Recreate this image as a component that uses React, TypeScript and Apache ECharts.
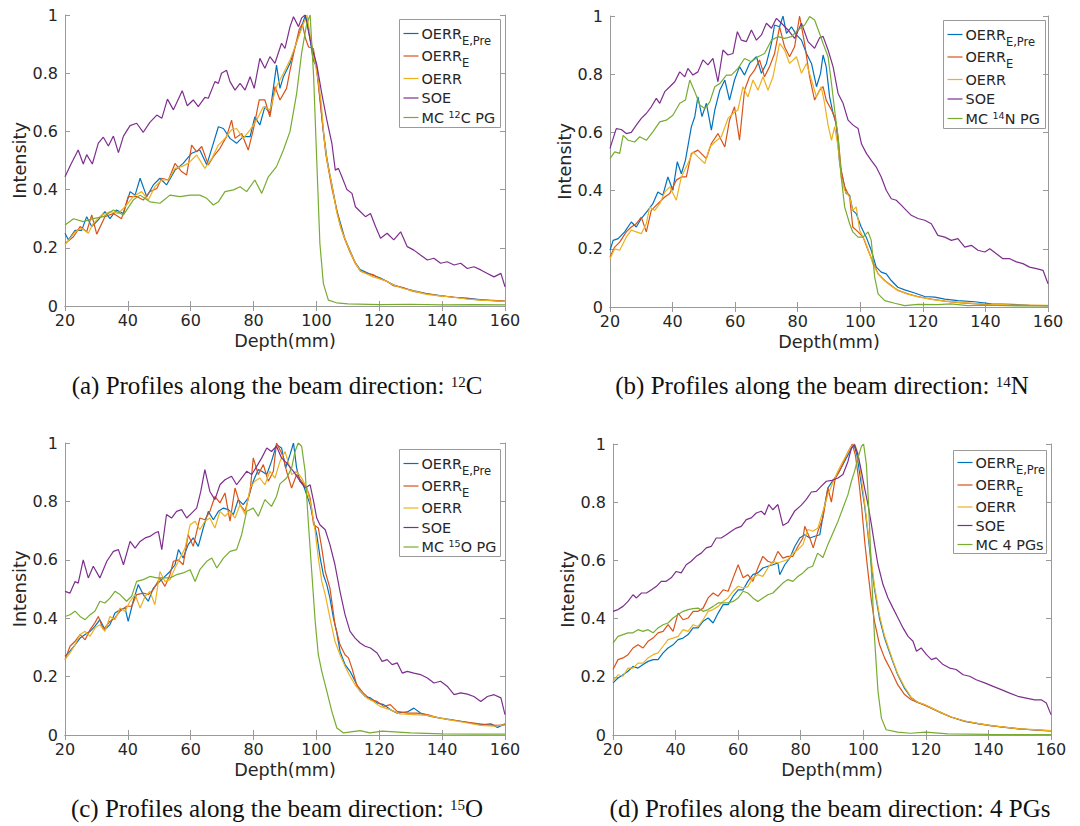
import React, { useEffect, useRef } from 'react';
import * as echarts from 'echarts';

// ---------------- data (depth mm, normalised intensity) ----------------
const aOerrEPre = [[20,0.25],[21.1,0.227],[23.2,0.26],[25.3,0.26],[26.9,0.307],[28.5,0.273],[30.6,0.296],[32.7,0.324],[34.3,0.3],[36.4,0.33],[38.6,0.318],[40.7,0.393],[42.3,0.381],[43.9,0.439],[46,0.376],[48.1,0.416],[50.2,0.439],[52.3,0.416],[55,0.467],[57.6,0.49],[60.3,0.525],[62.9,0.536],[65.1,0.485],[67.2,0.559],[68.8,0.616],[70.4,0.61],[72.5,0.576],[74.6,0.559],[76.7,0.582],[78.9,0.582],[80.4,0.65],[82,0.622],[83.6,0.685],[85.2,0.662],[87.3,0.828],[88.4,0.748],[89.5,0.788],[91.6,0.834],[93.5,0.9],[95,0.95],[96.5,1.0],[97.5,0.95],[99,0.845],[100.1,0.82],[101.1,0.72],[102.2,0.6],[103.3,0.51],[104.3,0.45],[105.4,0.39],[106.4,0.33],[107.5,0.29],[109.1,0.23],[110.7,0.19],[112.3,0.15],[113.9,0.125],[116,0.115],[118.1,0.105],[120.2,0.097],[122.3,0.085],[124.5,0.073],[127.6,0.062],[130.8,0.053],[135,0.043],[139.3,0.036],[143.5,0.03],[147.7,0.027],[152,0.022],[156.2,0.018],[160,0.016]];
const aOerrE = [[20,0.215],[22.7,0.238],[24.8,0.273],[26.9,0.255],[28.5,0.313],[30.1,0.247],[32.7,0.307],[35.4,0.318],[38,0.3],[40.1,0.376],[42.8,0.376],[44.9,0.364],[47,0.393],[49.2,0.404],[50.8,0.439],[52.9,0.433],[55,0.49],[57.1,0.462],[58.7,0.45],[60.3,0.553],[61.9,0.53],[63.5,0.548],[65.6,0.485],[67.2,0.513],[69.3,0.542],[71.4,0.582],[73,0.639],[74.1,0.576],[76.2,0.593],[78.3,0.536],[79.9,0.605],[81.8,0.708],[83.6,0.708],[85.2,0.65],[86.8,0.754],[88.4,0.708],[90.5,0.748],[91.6,0.81],[93,0.88],[94.5,0.95],[95.5,0.97],[96.5,0.92],[97.5,0.89],[99,0.885],[100,0.82],[101,0.72],[102,0.62],[103,0.52],[104,0.46],[105,0.4],[106.4,0.335],[107.5,0.28],[109,0.23],[110.7,0.185],[112.3,0.148],[114,0.12],[116,0.112],[118,0.108],[120,0.095],[122.3,0.086],[124.5,0.07],[127.6,0.063],[130.8,0.05],[135,0.042],[139.3,0.035],[143.5,0.031],[147.7,0.025],[152,0.021],[156.2,0.019],[160,0.017]];
const aOerr = [[20,0.21],[23.2,0.255],[25.3,0.267],[27.4,0.25],[29,0.284],[31.7,0.313],[34.3,0.324],[37,0.318],[39.1,0.341],[41.7,0.376],[44.4,0.393],[46.5,0.364],[48.6,0.41],[50.8,0.433],[52.9,0.433],[55,0.473],[57.1,0.479],[59.2,0.49],[61.9,0.519],[64.5,0.473],[66.7,0.507],[68.8,0.553],[70.9,0.576],[73,0.605],[74.6,0.61],[76.7,0.576],[78.9,0.605],[81,0.639],[83.1,0.685],[85.2,0.674],[87.3,0.754],[89.5,0.8],[91.6,0.845],[93.5,0.9],[95.5,0.96],[97,1.0],[98,0.93],[99.5,0.84],[100.5,0.78],[101.5,0.7],[102.5,0.57],[103.5,0.49],[104.5,0.44],[105.5,0.38],[106.5,0.32],[108,0.26],[109.5,0.22],[111,0.18],[112.5,0.145],[114,0.12],[116,0.11],[118,0.1],[120.2,0.093],[122.3,0.085],[124.5,0.072],[127.6,0.06],[130.8,0.052],[135,0.04],[139.3,0.035],[143.5,0.03],[147.7,0.024],[152,0.02],[156.2,0.018],[160,0.016]];
const aSoe = [[20,0.444],[22,0.49],[24.2,0.536],[25.8,0.488],[26.9,0.52],[28.7,0.488],[30.6,0.56],[32.2,0.58],[33.8,0.55],[35.4,0.584],[37,0.527],[38.6,0.584],[40.7,0.62],[42.8,0.628],[44.9,0.597],[47,0.631],[49.2,0.656],[50.8,0.645],[52.6,0.711],[54.5,0.674],[57.3,0.74],[58.9,0.688],[60.8,0.708],[62.4,0.685],[64.5,0.717],[65.6,0.714],[67.7,0.771],[68.8,0.765],[69.8,0.8],[71.4,0.81],[72.5,0.771],[74.1,0.742],[75.7,0.765],[77.3,0.742],[78.9,0.788],[80.2,0.748],[82,0.851],[83.6,0.817],[85.2,0.857],[86.8,0.834],[88.9,0.903],[90,0.885],[91.6,0.96],[92.7,0.994],[94.3,0.96],[95.3,0.99],[96.4,1.0],[98.5,0.89],[100.1,0.83],[101.7,0.73],[103.3,0.64],[104.9,0.56],[106,0.467],[107,0.473],[108.1,0.444],[109.7,0.4],[111.3,0.387],[112.4,0.341],[114,0.324],[115.6,0.307],[117.2,0.318],[118.8,0.273],[120.4,0.233],[122.5,0.25],[124.6,0.227],[126.8,0.255],[128.9,0.204],[131,0.192],[133.1,0.175],[135.3,0.158],[137.4,0.164],[139.5,0.147],[141.6,0.152],[143.8,0.141],[145.9,0.147],[148,0.129],[150.1,0.135],[152.3,0.124],[154.4,0.112],[156.5,0.1],[158.7,0.112],[160,0.066]];
const aMc = [[20,0.278],[22.7,0.3],[25.8,0.29],[29,0.3],[32.2,0.307],[35.4,0.33],[38.6,0.313],[41.7,0.364],[43.9,0.381],[47,0.358],[50.2,0.353],[53.4,0.381],[56.6,0.376],[59.8,0.381],[62.9,0.381],[65.1,0.37],[67.2,0.347],[68.8,0.358],[70.9,0.393],[73.6,0.399],[75.7,0.41],[77.8,0.393],[80.4,0.433],[82.6,0.387],[84.7,0.444],[87.3,0.479],[89.5,0.536],[91.6,0.6],[93.7,0.73],[95.3,0.87],[96.9,0.97],[98,1.0],[99.1,0.79],[100.1,0.5],[101.1,0.215],[102.2,0.078],[103.8,0.02],[106.4,0.011],[110,0.007],[120,0.005],[130,0.006],[140,0.004],[150,0.005],[160,0.004]];

const bOerrEPre = [[20,0.195],[21,0.229],[22.6,0.235],[24.7,0.258],[26.8,0.292],[28.4,0.275],[30,0.304],[32.1,0.332],[33.7,0.355],[35.3,0.395],[36.9,0.384],[38.5,0.447],[40.1,0.401],[41.5,0.499],[42.8,0.458],[44.1,0.504],[46,0.619],[47.1,0.654],[48.1,0.722],[49.4,0.654],[50.8,0.7],[52.4,0.608],[53.5,0.677],[55.1,0.745],[56.7,0.78],[58.2,0.711],[59.8,0.78],[61.4,0.826],[63,0.797],[64.6,0.837],[66.8,0.86],[68.4,0.803],[70,0.837],[71.6,0.906],[72.6,0.969],[74.2,0.963],[75.3,1.0],[76.4,0.94],[78,0.963],[79.6,0.935],[81.2,0.917],[82.8,0.871],[84.4,0.837],[86,0.757],[87.3,0.803],[88.1,0.866],[89.1,0.826],[90.2,0.722],[91.3,0.665],[92.3,0.63],[93.4,0.493],[94.5,0.436],[95.5,0.39],[96.6,0.384],[97.6,0.332],[98.7,0.321],[100.3,0.275],[101.9,0.24],[103.5,0.195],[105.1,0.137],[106.7,0.12],[108.3,0.114],[109.9,0.091],[112,0.068],[114.2,0.059],[117.4,0.048],[120.6,0.036],[123.8,0.034],[127,0.027],[131.2,0.022],[136.6,0.018],[141.9,0.011],[148.3,0.009],[154,0.006],[160,0.005]];
const bOerrE = [[20,0.172],[21.5,0.206],[23.1,0.223],[25.2,0.258],[26.8,0.275],[28.4,0.286],[30,0.309],[31.6,0.258],[33.2,0.332],[35.3,0.355],[37.5,0.378],[39.1,0.39],[41.2,0.436],[42.8,0.447],[44.4,0.447],[46,0.527],[48.1,0.539],[50.8,0.51],[52.4,0.562],[54.5,0.596],[56.7,0.55],[58.2,0.642],[59.8,0.688],[61.4,0.573],[63,0.745],[64.6,0.791],[66.2,0.814],[67.8,0.849],[69.4,0.791],[71,0.826],[72.6,0.871],[74.2,0.963],[75.8,0.894],[77.4,0.86],[79,0.894],[80.6,1.0],[82.2,0.906],[83.8,0.791],[85.4,0.711],[87,0.745],[88.1,0.757],[89.1,0.711],[90.8,0.677],[91.8,0.654],[92.9,0.585],[93.9,0.47],[95,0.413],[96.6,0.378],[97.6,0.275],[99.3,0.258],[100.9,0.24],[102.5,0.195],[104,0.155],[105.7,0.114],[107.8,0.091],[109.9,0.074],[112,0.057],[115.2,0.045],[118.4,0.036],[122.7,0.027],[127,0.02],[132.3,0.014],[139.8,0.009],[148,0.006],[160,0.005]];
const bOerr = [[20,0.166],[21.5,0.2],[23.1,0.195],[25.2,0.24],[26.8,0.264],[28.4,0.258],[30,0.252],[31.6,0.286],[32.7,0.344],[34.3,0.332],[35.9,0.355],[37.5,0.395],[39.1,0.413],[41.2,0.367],[42.8,0.447],[44.9,0.493],[46.5,0.533],[48.1,0.516],[50.3,0.493],[51.9,0.55],[53.5,0.567],[55.6,0.585],[57.7,0.648],[59.3,0.665],[60.9,0.677],[62.5,0.757],[64.1,0.722],[65.7,0.78],[67.3,0.745],[68.9,0.791],[70.5,0.745],[72.1,0.791],[74.2,0.906],[75.8,0.883],[77.4,0.837],[79.6,0.86],[81.2,0.803],[82.8,0.837],[84.4,0.78],[86,0.722],[87.5,0.757],[88.6,0.7],[89.7,0.625],[90.8,0.573],[91.8,0.62],[92.9,0.55],[93.9,0.447],[95,0.401],[96.6,0.378],[97.6,0.332],[98.7,0.344],[99.8,0.264],[101.4,0.229],[103,0.183],[104,0.149],[105.7,0.114],[107.8,0.09],[109.9,0.072],[112,0.058],[115.2,0.044],[118.4,0.035],[122.7,0.026],[127,0.02],[132.3,0.015],[139.8,0.01],[148,0.007],[160,0.006]];
const bSoe = [[20,0.545],[22,0.613],[23.6,0.61],[25.2,0.596],[26.8,0.6],[28.4,0.625],[30,0.648],[31.6,0.665],[33.2,0.688],[34.8,0.717],[35.9,0.7],[37.5,0.74],[39.1,0.757],[40.7,0.774],[42.3,0.808],[43.9,0.791],[44.9,0.82],[46.5,0.797],[48.1,0.808],[49.7,0.849],[51.3,0.832],[52.9,0.854],[54.5,0.774],[56.1,0.883],[57.7,0.866],[59.3,0.871],[60.7,0.946],[62,0.917],[63.6,0.912],[65.2,0.952],[66.8,0.917],[68.4,0.935],[70,0.975],[71.6,0.958],[73.2,0.992],[74.8,0.975],[76.9,0.952],[79,0.923],[81.2,0.975],[83.3,0.912],[85.4,0.889],[87,0.925],[88.1,0.93],[89.7,0.883],[91.3,0.826],[92.9,0.734],[94.5,0.7],[96.1,0.642],[97.7,0.625],[99.3,0.613],[100.4,0.56],[102,0.527],[103.5,0.504],[105.1,0.481],[106.7,0.447],[108.3,0.401],[109.9,0.372],[111.5,0.367],[113.1,0.35],[114.7,0.332],[116.3,0.315],[118.4,0.304],[120.6,0.298],[122.7,0.286],[124.8,0.246],[127,0.24],[129.1,0.229],[131.2,0.235],[133.4,0.206],[135.5,0.212],[137.6,0.195],[139.8,0.189],[141.4,0.2],[143.5,0.183],[145.6,0.166],[147.8,0.166],[149.9,0.155],[152,0.149],[154.1,0.137],[156.3,0.132],[158.4,0.126],[160,0.08]];
const bMc = [[20,0.51],[21.5,0.533],[23.1,0.528],[24.2,0.59],[25.8,0.573],[27.9,0.567],[29.5,0.585],[31.6,0.573],[33.7,0.602],[35.9,0.636],[38,0.642],[40.1,0.659],[42.3,0.7],[44.1,0.711],[45.5,0.78],[47.1,0.74],[48.7,0.694],[50.3,0.682],[51.9,0.705],[53.5,0.757],[55.1,0.768],[57.2,0.797],[58.8,0.797],[60.9,0.82],[63,0.854],[65.2,0.843],[67.3,0.86],[69.4,0.871],[71.6,0.917],[73.7,0.929],[75.8,0.923],[78,0.929],[80.1,0.952],[82.2,0.969],[83.8,0.998],[85.4,0.986],[87,0.94],[88.1,0.906],[89.7,0.86],[90.8,0.768],[91.8,0.676],[92.9,0.585],[93.9,0.447],[95,0.344],[96.6,0.286],[97.6,0.258],[99.3,0.24],[100.9,0.24],[102.5,0.258],[103.5,0.229],[104.6,0.103],[105.7,0.045],[107.8,0.022],[111,0.013],[114.2,0.005],[118.4,0.009],[124.8,0.008],[129,0.011],[134.3,0.005],[140,0.006],[150,0.004],[160,0.004]];

const cOerrEPre = [[20,0.269],[21.6,0.287],[23.2,0.309],[24.8,0.332],[26.4,0.344],[28,0.355],[29.5,0.372],[31.1,0.395],[32.7,0.361],[34.3,0.378],[35.9,0.418],[37.5,0.429],[39.1,0.435],[40.1,0.389],[41.7,0.458],[43.3,0.515],[44.9,0.481],[46.5,0.458],[48.1,0.503],[49.7,0.521],[51.3,0.538],[53.4,0.56],[55,0.583],[56.1,0.635],[57.6,0.606],[59.2,0.652],[60.8,0.675],[62.4,0.646],[64,0.709],[65.6,0.766],[67.2,0.737],[68.8,0.766],[70.4,0.777],[72,0.772],[73.6,0.755],[75.1,0.806],[76.7,0.789],[78.3,0.812],[79.9,0.869],[81.5,0.909],[82.6,0.903],[84.2,0.892],[85.7,0.937],[87.3,0.994],[88.9,0.983],[90.2,0.915],[91.6,0.96],[92.7,1.0],[93.7,0.914],[94.8,0.869],[95.8,0.857],[96.9,0.823],[98,0.789],[99.1,0.732],[100.1,0.686],[101.2,0.606],[102.2,0.549],[103.3,0.515],[104.3,0.469],[105.4,0.401],[106.4,0.355],[107.5,0.287],[109.1,0.241],[110.7,0.218],[112.3,0.184],[113.9,0.15],[115.5,0.132],[117.2,0.127],[119.3,0.11],[121.4,0.104],[123.5,0.087],[125.7,0.075],[128.9,0.079],[131,0.092],[133.1,0.075],[136.3,0.064],[139.5,0.058],[142.7,0.053],[145.9,0.047],[149.1,0.041],[152.3,0.035],[155.5,0.038],[157.6,0.026],[160,0.038]];
const cOerrE = [[20,0.258],[21.6,0.304],[23.2,0.321],[24.8,0.344],[26.4,0.326],[28,0.361],[29.5,0.384],[30.6,0.406],[32.2,0.361],[34.3,0.389],[35.9,0.401],[37.5,0.424],[39.6,0.441],[41.2,0.441],[42.8,0.481],[44.9,0.486],[46.5,0.481],[48.1,0.498],[50.2,0.538],[51.8,0.509],[53.4,0.549],[54.5,0.595],[56.1,0.6],[57.6,0.583],[59.2,0.686],[60.8,0.646],[62.9,0.743],[64.5,0.737],[66.1,0.766],[67.7,0.817],[69.3,0.795],[70.9,0.829],[72.5,0.732],[74.1,0.846],[75.7,0.789],[77.3,0.766],[78.9,0.834],[79.9,0.949],[81.5,0.892],[83.1,0.926],[84.7,0.869],[86.3,0.903],[87.3,1.0],[88.9,0.966],[89.5,0.949],[90.5,0.903],[92.1,0.846],[93.7,0.892],[95.3,0.869],[96.9,0.846],[98,0.812],[99.1,0.72],[100.6,0.709],[101.7,0.64],[102.8,0.56],[104.3,0.503],[105.9,0.378],[107.5,0.309],[109.1,0.275],[110.2,0.264],[111.3,0.229],[112.8,0.172],[114.9,0.144],[117.2,0.121],[119.3,0.115],[121.4,0.098],[123.5,0.104],[125.7,0.081],[128.9,0.075],[132,0.075],[135.3,0.07],[138.5,0.06],[141.6,0.053],[145.9,0.047],[150.1,0.041],[154.4,0.035],[157.6,0.033],[160,0.035]];
const cOerr = [[20,0.258],[21.6,0.281],[23.2,0.309],[24.8,0.344],[26.4,0.355],[28,0.338],[29.5,0.366],[31.1,0.378],[32.7,0.355],[34.3,0.406],[35.9,0.395],[37.5,0.435],[39.1,0.424],[40.7,0.458],[42.3,0.481],[43.9,0.435],[45.5,0.475],[47,0.492],[48.6,0.446],[50.2,0.56],[51.8,0.526],[53.4,0.532],[55,0.572],[56.6,0.606],[58.2,0.64],[59.8,0.72],[61.4,0.732],[62.9,0.703],[64.5,0.732],[66.1,0.743],[67.7,0.709],[69.3,0.766],[70.9,0.749],[72.5,0.766],[74.1,0.743],[75.7,0.789],[77.3,0.755],[78.9,0.846],[80.4,0.869],[82,0.88],[83.6,0.857],[85.2,0.903],[86.8,0.88],[88.4,0.937],[90,0.971],[91.6,0.914],[92.1,0.892],[93.7,0.903],[95.3,0.88],[96.9,0.846],[98.5,0.777],[99.6,0.697],[100.6,0.606],[101.7,0.526],[102.8,0.481],[104.3,0.401],[105.9,0.321],[107.5,0.275],[109.1,0.235],[110.7,0.201],[112.3,0.172],[113.9,0.15],[116,0.127],[118.1,0.115],[120.2,0.098],[123.4,0.087],[126.6,0.072],[131,0.07],[135.2,0.067],[139.5,0.058],[143.8,0.049],[148,0.041],[152.3,0.033],[156.5,0.03],[160,0.035]];
const cSoe = [[20,0.492],[21.6,0.486],[23.2,0.526],[24.2,0.52],[25.8,0.6],[27.4,0.538],[29,0.578],[31.1,0.538],[33.3,0.595],[35.4,0.629],[37,0.635],[38.6,0.583],[40.7,0.663],[42.3,0.64],[43.9,0.663],[45.5,0.675],[47,0.68],[48.6,0.692],[49.7,0.697],[50.8,0.635],[52.3,0.755],[53.9,0.743],[55.5,0.766],[57.1,0.772],[58.7,0.743],[60.3,0.76],[61.9,0.777],[63.2,0.834],[64.5,0.909],[66.1,0.834],[67.7,0.806],[69.3,0.857],[70.9,0.874],[73,0.886],[74.6,0.857],[76.2,0.88],[77.8,0.903],[79.4,0.892],[81,0.92],[82.6,0.949],[84.2,0.983],[85.7,0.971],[87.3,0.989],[88.9,0.949],[90.5,0.932],[92.7,0.903],[94.8,0.869],[96.4,0.846],[98,0.857],[99.1,0.8],[100.1,0.743],[101.1,0.72],[102.8,0.703],[104.3,0.652],[105.9,0.583],[107.5,0.492],[109.1,0.412],[110.7,0.355],[112.3,0.332],[113.9,0.315],[115.5,0.304],[117.2,0.298],[119.3,0.281],[120.9,0.252],[122.5,0.258],[124.1,0.241],[125.7,0.247],[127.3,0.212],[128.9,0.218],[131,0.212],[133.1,0.207],[135.3,0.195],[137.4,0.178],[139.5,0.184],[141.6,0.167],[143.8,0.138],[145.9,0.144],[148,0.14],[150.1,0.132],[152.3,0.115],[154.4,0.132],[156.5,0.138],[158.7,0.127],[160,0.07]];
const cMc = [[20,0.406],[21.6,0.412],[23.2,0.424],[24.8,0.406],[26.4,0.395],[28,0.412],[29.5,0.424],[31.1,0.458],[32.7,0.452],[34.3,0.469],[35.9,0.492],[37.5,0.481],[39.6,0.458],[41.2,0.475],[42.8,0.526],[44.9,0.532],[47,0.543],[49.2,0.538],[51.3,0.538],[53.4,0.538],[55.5,0.549],[57.6,0.555],[59.8,0.566],[61.4,0.526],[62.9,0.566],[65.1,0.595],[66.7,0.606],[68.3,0.572],[70.4,0.606],[72.5,0.629],[74.6,0.635],[76.2,0.686],[77.8,0.766],[79.9,0.777],[81.5,0.749],[83.6,0.806],[85.7,0.783],[87.3,0.817],[88.4,0.86],[90.5,0.88],[92.1,0.914],[93.2,0.971],[94.2,1.0],[95.3,0.989],[96.4,0.903],[97.4,0.732],[98.5,0.56],[99.6,0.389],[100.6,0.275],[101.7,0.218],[103.3,0.15],[104.9,0.081],[106.5,0.024],[108.6,0.007],[113.9,0.015],[117,0.007],[121,0.013],[130,0.007],[140,0.004],[150,0.003],[160,0.003]];

const dOerrEPre = [[20,0.179],[21.6,0.196],[23.2,0.207],[24.8,0.219],[26.4,0.236],[28,0.23],[29.6,0.242],[31.2,0.253],[32.8,0.259],[34.4,0.259],[36,0.282],[37.6,0.299],[39.2,0.31],[40.8,0.328],[42.4,0.333],[44,0.345],[45.6,0.368],[47.2,0.368],[48.8,0.391],[50.4,0.402],[52,0.385],[53.6,0.419],[55.2,0.448],[56.8,0.448],[58.4,0.477],[60,0.499],[61.6,0.499],[63.1,0.528],[64.7,0.551],[66.3,0.557],[67.9,0.574],[69.5,0.58],[71.1,0.585],[72.7,0.591],[73.3,0.551],[74.9,0.585],[76.5,0.608],[78.1,0.648],[79.7,0.677],[81.3,0.688],[82.9,0.677],[84.5,0.683],[86.1,0.688],[87.7,0.792],[88.7,0.849],[90,0.87],[92,0.9],[94,0.94],[96,0.98],[97,1.0],[98,0.96],[99.4,0.86],[100.4,0.79],[101.5,0.69],[102.6,0.58],[103.6,0.5],[105.2,0.4],[106.8,0.333],[109,0.265],[111,0.207],[113.2,0.16],[115.3,0.128],[117.4,0.112],[119.6,0.104],[121.7,0.093],[124.9,0.076],[128.1,0.062],[132.4,0.047],[136.6,0.039],[141,0.032],[145.2,0.026],[149.4,0.022],[153.7,0.018],[158,0.015],[160,0.014]];
const dOerrE = [[20,0.225],[21.6,0.259],[23.2,0.265],[24.8,0.276],[26.4,0.299],[28,0.31],[29.6,0.299],[31.2,0.322],[32.8,0.333],[34.4,0.351],[36,0.356],[37.6,0.379],[39.2,0.356],[40.8,0.419],[42.4,0.396],[44,0.402],[45.6,0.425],[47.2,0.425],[48.8,0.436],[50.4,0.471],[52,0.488],[53.6,0.477],[55.2,0.499],[56.8,0.494],[58.4,0.54],[60,0.585],[61.6,0.54],[63.1,0.551],[64.7,0.528],[66.3,0.574],[67.9,0.614],[69.5,0.597],[71.1,0.591],[72.7,0.631],[74.3,0.608],[75.9,0.614],[77.5,0.614],[79.1,0.648],[80.7,0.677],[81.3,0.717],[82.9,0.677],[84,0.643],[85.5,0.7],[87.1,0.746],[88.7,0.849],[89.8,0.8],[91,0.88],[93,0.92],[95,0.97],[96.5,1.0],[97.5,0.96],[98.5,0.88],[99.5,0.78],[100.5,0.66],[101.5,0.56],[102.6,0.46],[103.6,0.39],[105.2,0.31],[106.8,0.265],[109,0.219],[111,0.173],[113.2,0.139],[115.3,0.121],[117.4,0.112],[119.6,0.102],[121.7,0.092],[124.9,0.077],[128.1,0.061],[132.4,0.048],[136.6,0.039],[141,0.031],[145.2,0.027],[149.4,0.021],[153.7,0.018],[158,0.016],[160,0.015]];
const dOerr = [[20,0.184],[21.6,0.207],[23.2,0.202],[24.8,0.23],[26.4,0.23],[28,0.247],[29.6,0.247],[31.2,0.265],[32.8,0.276],[34.4,0.282],[36,0.305],[37.6,0.328],[39.2,0.333],[40.8,0.339],[42.4,0.362],[44,0.356],[45.6,0.379],[47.2,0.373],[48.8,0.396],[50.4,0.425],[52,0.431],[53.6,0.442],[55.2,0.459],[56.8,0.471],[58.4,0.494],[60,0.511],[61.6,0.505],[63.1,0.51],[64.7,0.54],[66.3,0.551],[67.9,0.545],[69.5,0.574],[71.1,0.597],[72.7,0.591],[74.3,0.597],[75.9,0.603],[77.5,0.625],[79.1,0.637],[80.7,0.654],[82.3,0.706],[83.9,0.7],[85.5,0.711],[87.1,0.769],[88.7,0.826],[90,0.86],[92,0.91],[94,0.95],[96,0.99],[97.2,1.0],[98.3,0.97],[99.4,0.88],[100.4,0.8],[101.5,0.7],[102.6,0.6],[103.6,0.51],[105.2,0.41],[106.8,0.34],[109,0.27],[111,0.21],[113.2,0.165],[115.3,0.13],[117.4,0.113],[119.6,0.105],[121.7,0.094],[124.9,0.077],[128.1,0.062],[132.4,0.048],[136.6,0.04],[141,0.032],[145.2,0.027],[149.4,0.022],[153.7,0.019],[158,0.016],[160,0.015]];
const dSoe = [[20,0.425],[21.6,0.431],[23.2,0.442],[24.8,0.459],[26.4,0.482],[27.5,0.471],[29.1,0.488],[30.7,0.488],[32.3,0.499],[33.9,0.511],[35.4,0.528],[37,0.528],[38.6,0.54],[40.2,0.562],[41.8,0.557],[43.4,0.585],[45,0.597],[46.6,0.614],[48.2,0.625],[49.8,0.643],[51.4,0.648],[53,0.677],[54.6,0.677],[56.2,0.688],[57.8,0.7],[59.4,0.711],[61,0.717],[62.6,0.74],[64.2,0.746],[65.8,0.763],[67.4,0.769],[68.5,0.757],[69.8,0.792],[71.1,0.774],[72.7,0.792],[74.3,0.72],[75.9,0.73],[78.1,0.77],[80.2,0.79],[81.8,0.81],[83.4,0.835],[85,0.837],[86.6,0.855],[88.2,0.872],[90,0.875],[91.9,0.883],[93.5,0.895],[95.1,0.94],[96.2,0.986],[97.2,0.998],[98.3,0.963],[99.4,0.906],[100.4,0.849],[101.5,0.792],[102.6,0.723],[103.6,0.654],[104.7,0.585],[106.3,0.517],[107.9,0.471],[109.5,0.436],[111.1,0.402],[112.7,0.368],[114.3,0.339],[115.9,0.322],[117,0.288],[118.5,0.299],[120.2,0.276],[121.8,0.259],[123.3,0.265],[125.5,0.242],[127.6,0.23],[129.7,0.225],[131.9,0.207],[134,0.202],[136.1,0.19],[138.8,0.179],[141.5,0.167],[144.1,0.156],[146.8,0.144],[149.4,0.133],[152.1,0.127],[154.8,0.121],[156.9,0.121],[158.5,0.11],[160,0.07]];
const dMc = [[20,0.316],[21.6,0.339],[23.2,0.345],[24.8,0.351],[26.4,0.351],[28,0.362],[29.6,0.356],[31.2,0.362],[32.8,0.351],[34.4,0.368],[36,0.379],[37.6,0.385],[39.2,0.402],[40.8,0.414],[42.4,0.425],[44,0.431],[45.6,0.434],[47.2,0.436],[48.8,0.425],[50.4,0.431],[52,0.442],[53.6,0.454],[55.2,0.454],[56.8,0.454],[58.4,0.459],[60,0.471],[61.6,0.494],[63.1,0.488],[64.7,0.471],[66.3,0.459],[67.9,0.471],[69.5,0.482],[71.1,0.488],[72.7,0.505],[74.3,0.522],[75.9,0.534],[77.5,0.528],[79.1,0.545],[80.7,0.557],[82.3,0.574],[83.8,0.58],[85.4,0.625],[87.1,0.61],[88.7,0.655],[90.3,0.694],[91.9,0.734],[93.5,0.78],[95.1,0.826],[96.2,0.872],[97.2,0.906],[98.3,0.952],[99.4,0.992],[100.1,1.0],[101,0.929],[101.7,0.792],[102.6,0.562],[103.6,0.333],[104.7,0.15],[105.8,0.058],[107.3,0.018],[111,0.01],[115,0.006],[120,0.01],[127,0.004],[140,0.002],[160,0.001]];

const seriesNames = ['OERR_E,Pre', 'OERR_E', 'OERR', 'SOE'];
const legendLabels = ['OERR{sub|E,Pre}', 'OERR{sub|E}', 'OERR', 'SOE'];
const mcNames = ['MC 12C PG', 'MC 14N PG', 'MC 15O PG', 'MC 4 PGs'];
const mcLabels = ['MC {sup|12}C PG', 'MC {sup|14}N PG', 'MC {sup|15}O PG', 'MC 4 PGs'];
const captions = [
  '(a) Profiles along the beam direction: {sup|12}C',
  '(b) Profiles along the beam direction: {sup|14}N',
  '(c) Profiles along the beam direction: {sup|15}O',
  '(d) Profiles along the beam direction: 4 PGs',
];
const panelData = [
  [aOerrEPre, aOerrE, aOerr, aSoe, aMc],
  [bOerrEPre, bOerrE, bOerr, bSoe, bMc],
  [cOerrEPre, cOerrE, cOerr, cSoe, cMc],
  [dOerrEPre, dOerrE, dOerr, dSoe, dMc],
];
const xTickMin = 20, xTickMax = 160, xTickStep = 20;
const yTickMin = 0, yTickMax = 1, yTickStep = 0.2;

// ---------------- layout / style ----------------
const COLORS = ['#0072BD', '#D95319', '#EDB120', '#7E2F8E', '#77AC30'];
const FONT = 'DejaVu Sans';
const SERIF = 'Liberation Serif';
const TXT = '#262626';
const AXC = '#9a9a9a';
const grids = [
  { left: 65, top: 15, width: 440, height: 291 },
  { left: 610, top: 16, width: 438, height: 291 },
  { left: 65, top: 443, width: 440, height: 292 },
  { left: 613, top: 444, width: 438, height: 291 },
];
const legendBoxes = [
  { x: 399, y: 19, w: 101, h: 108, offs: [14, 36.5, 59, 78.5, 98] },
  { x: 943, y: 20, w: 102, h: 108, offs: [14, 36.5, 59, 78.5, 98] },
  { x: 399, y: 449, w: 101, h: 107, offs: [14, 36.5, 58.5, 78, 97.5] },
  { x: 953, y: 450, w: 93, h: 103, offs: [12, 34.5, 56.5, 75, 94] },
];
const captionPos = [
  { x: 277, y: 385 },
  { x: 822, y: 385 },
  { x: 277, y: 808 },
  { x: 830, y: 808 },
];

const legendRich = {
  sub: { fontSize: 11.5, lineHeight: 12, padding: [14, 0, 0, 0], fontFamily: FONT, fill: TXT, color: TXT },
  sup: { fontSize: 9.5, lineHeight: 10, padding: [0, 0, 6.5, 0], fontFamily: FONT, fill: TXT, color: TXT },
};
const captionRich = {
  sup: { fontSize: 15, lineHeight: 15, padding: [0, 0, 6, 0], fontFamily: SERIF, fill: '#111', color: '#111' },
};

function buildOption() {
  const xAxis: any[] = [];
  const yAxis: any[] = [];
  const series: any[] = [];
  const graphic: any[] = [];
  const lineCommon = { show: true, lineStyle: { color: AXC, width: 1 } };
  const tickCommon = { show: true, inside: true, length: 5, lineStyle: { color: AXC, width: 1 } };

  grids.forEach((g, p) => {
    xAxis.push({
      type: 'value', gridIndex: p, position: 'bottom', min: xTickMin, max: xTickMax, interval: xTickStep,
      axisLine: lineCommon, axisTick: tickCommon, splitLine: { show: false },
      axisLabel: { fontSize: 16, fontFamily: FONT, color: TXT, margin: 6 },
      name: 'Depth(mm)', nameLocation: 'middle', nameGap: 26,
      nameTextStyle: { fontSize: 17.6, fontFamily: FONT, color: TXT },
    });
    xAxis.push({
      type: 'value', gridIndex: p, position: 'top', min: xTickMin, max: xTickMax, interval: xTickStep,
      axisLine: lineCommon, axisTick: tickCommon, splitLine: { show: false }, axisLabel: { show: false },
    });
    yAxis.push({
      type: 'value', gridIndex: p, position: 'left', min: yTickMin, max: yTickMax, interval: yTickStep,
      axisLine: lineCommon, axisTick: tickCommon, splitLine: { show: false },
      axisLabel: { fontSize: 16, fontFamily: FONT, color: TXT, margin: 7 },
      name: 'Intensity', nameLocation: 'middle', nameGap: 32,
      nameTextStyle: { fontSize: 17.6, fontFamily: FONT, color: TXT },
    });
    yAxis.push({
      type: 'value', gridIndex: p, position: 'right', min: yTickMin, max: yTickMax, interval: yTickStep,
      axisLine: lineCommon, axisTick: tickCommon, splitLine: { show: false }, axisLabel: { show: false },
    });

    const names = [...seriesNames, mcNames[p]];
    panelData[p].forEach((data, i) => {
      series.push({
        type: 'line', name: names[i], xAxisIndex: 2 * p, yAxisIndex: 2 * p,
        data, showSymbol: false, symbol: 'none', smooth: false,
        lineStyle: { color: COLORS[i], width: 1.2 }, itemStyle: { color: COLORS[i] },
        z: 2 + i,
      });
    });

    // legend box drawn with graphic elements
    const lb = legendBoxes[p];
    const labels = [...legendLabels, mcLabels[p]];
    const children: any[] = [
      { type: 'rect', shape: { x: 0, y: 0, width: lb.w, height: lb.h }, style: { fill: '#fff', stroke: AXC, lineWidth: 1 } },
    ];
    labels.forEach((lab, i) => {
      const cy = lb.offs[i];
      children.push({ type: 'line', shape: { x1: 4, y1: cy, x2: 19, y2: cy }, style: { stroke: COLORS[i], lineWidth: 1.2 } });
      children.push({
        type: 'text', x: 22, y: cy,
        style: {
          text: lab, fontSize: 14.4, fontFamily: FONT, fill: TXT,
          align: 'left', verticalAlign: 'middle', textAlign: 'left', textVerticalAlign: 'middle',
          rich: legendRich,
        },
      });
    });
    graphic.push({ type: 'group', x: lb.x + 0.5, y: lb.y + 0.5, z: 100, children });

    const cp = captionPos[p];
    graphic.push({
      type: 'text', x: cp.x, y: cp.y, z: 100,
      style: {
        text: captions[p], fontSize: 25, fontFamily: SERIF, fill: '#111',
        align: 'center', verticalAlign: 'middle', textAlign: 'center', textVerticalAlign: 'middle',
        rich: captionRich,
      },
    });
  });

  return {
    animation: false,
    backgroundColor: '#ffffff',
    grid: grids.map((g) => ({ ...g, containLabel: false })),
    xAxis, yAxis, series, graphic,
  };
}

export default function App() {
  const ref = useRef<HTMLDivElement>(null);
  useEffect(() => {
    if (!ref.current) return;
    const chart = echarts.init(ref.current, null, { renderer: 'svg' });
    chart.setOption(buildOption() as any);
    return () => chart.dispose();
  }, []);
  return (
    <div
      ref={ref}
      style={{ position: 'fixed', left: 0, top: 0, width: 1080, height: 826, background: '#fff' }}
    />
  );
}
